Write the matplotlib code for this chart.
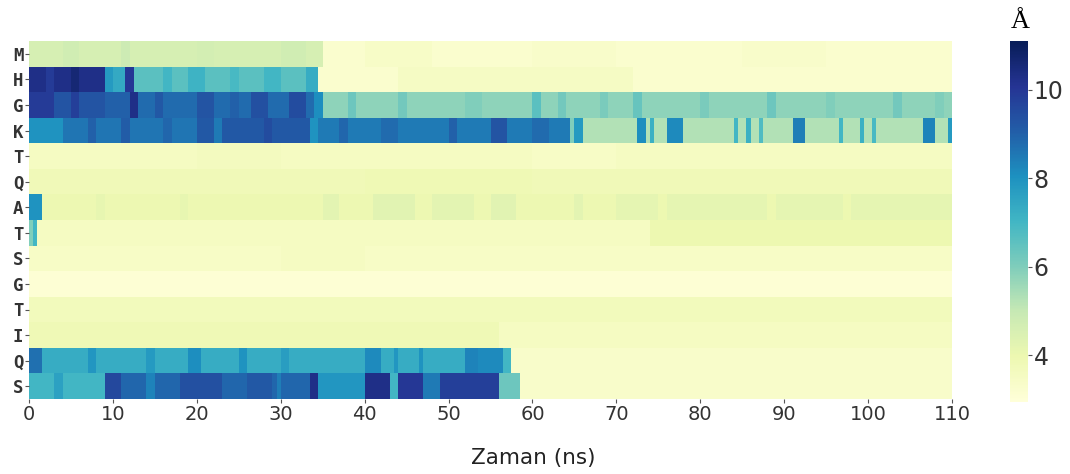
import numpy as np
import matplotlib.pyplot as plt
from matplotlib.colors import Normalize

# residue labels (top to bottom)
row_labels = ["M", "H", "G", "K", "T", "Q", "A", "T", "S", "G", "T", "I", "Q", "S"]

# per-row segments: (start ns, end ns, distance in Å)
# later segments overwrite earlier ones
seg_M = [(0, 35, 4.6), (4, 6, 4.75), (11, 12, 4.85), (20, 22, 4.7), (30, 33, 4.75),
         (35, 110, 3.25), (40, 48, 3.4), (60, 70, 3.35), (85, 95, 3.35)]
seg_H = [(0, 9, 10.3), (2, 3, 9.9), (5, 6, 10.6), (9, 10, 7.8), (10, 11.5, 7.4),
         (11.5, 12.5, 10.0), (12.5, 34.5, 6.6), (16, 17, 7.0), (19, 21, 7.1),
         (24, 25, 6.9), (28, 30, 7.0), (33, 34.5, 7.3), (34.5, 110, 3.25), (44, 72, 3.5)]
seg_G1 = [(0, 3, 9.9), (3, 9, 9.3), (5, 6, 9.8), (9, 12, 9.0), (12, 13, 10.3),
          (13, 34, 8.8), (15, 16, 9.2), (20, 22, 9.3), (24, 25, 9.0), (26.5, 28.5, 9.4),
          (31, 33, 9.5), (34, 35, 8.1), (35, 110, 5.8), (38, 39, 6.3), (44, 45, 6.2),
          (52, 54, 6.0), (60, 61, 6.6), (63, 64, 6.2), (68, 69, 6.1), (72, 73, 6.4),
          (80, 81, 6.1), (88, 89, 6.3), (95, 96, 6.0), (103, 104, 6.2), (108, 109, 6.0)]
seg_K = [(0, 4, 8.0), (4, 20, 8.6), (7, 8, 9.0), (11, 12, 9.1), (16, 17, 8.9),
         (20, 33.5, 9.2), (22, 23, 8.5), (28, 29, 9.5), (33.5, 34.5, 8.0),
         (34.5, 64.5, 8.5), (37, 38, 8.9), (42, 44, 8.8), (50, 51, 9.0), (55, 57, 9.3),
         (60, 62, 8.8), (64.5, 65, 6.0), (65, 66, 7.8), (66, 110, 5.3),
         (72.5, 73.5, 8.1), (74, 74.5, 7.2), (76, 78, 8.2), (84, 84.5, 7.0),
         (85.5, 86, 7.2), (87, 87.5, 6.8), (91, 92.5, 8.4), (96.5, 97, 7.0),
         (99, 99.5, 7.2), (100.5, 101, 6.9), (106.5, 108, 8.3), (109.5, 110, 7.8)]
seg_T1 = [(0, 110, 3.55), (20, 30, 3.65), (60, 70, 3.45)]
seg_Q1 = [(0, 110, 3.8), (40, 60, 3.9)]
seg_A = [(0, 1.5, 8.0), (1.5, 110, 3.95), (8, 9, 4.15), (18, 19, 4.15), (35, 37, 4.25),
         (41, 46, 4.3), (48, 53, 4.25), (55, 58, 4.3), (65, 66, 4.25), (70, 110, 4.2),
         (75, 76, 4.0), (88, 89, 4.0), (97, 98, 4.0)]
seg_T2 = [(0, 0.5, 6.0), (0.5, 1.2, 7.0), (1.2, 74, 3.55), (74, 110, 4.0)]
seg_S1 = [(0, 110, 3.45), (30, 40, 3.55)]
seg_G2 = [(0, 110, 3.1)]
seg_T3 = [(0, 110, 3.7)]
seg_I = [(0, 56, 3.85), (56, 110, 3.55)]
seg_Q2 = [(0, 1.5, 8.7), (1.5, 57, 7.3), (7, 8, 7.9), (14, 15, 7.8), (18.8, 20.4, 8.1),
          (25, 26, 8.0), (30, 31, 7.7), (39.8, 41.8, 8.2), (43.5, 44, 7.9),
          (46.5, 47, 8.0), (52, 53.7, 8.3), (53.7, 56.5, 8.2), (56.5, 57.3, 7.0),
          (57.3, 110, 3.35)]
seg_S2 = [(0, 9, 7.0), (3, 4, 7.6), (9, 11.2, 9.6), (11.2, 33.5, 8.9), (14, 15, 8.3),
          (18.2, 23.1, 9.4), (26, 29, 9.2), (29.5, 30, 8.4), (33.5, 34.7, 10.3),
          (34.7, 39.8, 7.9), (39.8, 42.8, 10.3), (42.8, 43.8, 7.0), (43.8, 47, 10.0),
          (47, 49.2, 8.5), (49.2, 55.8, 9.8), (55.8, 58.3, 6.3), (58.3, 110, 3.35)]

row_segments = [seg_M, seg_H, seg_G1, seg_K, seg_T1, seg_Q1, seg_A, seg_T2,
                seg_S1, seg_G2, seg_T3, seg_I, seg_Q2, seg_S2]

x_ticks = [0, 10, 20, 30, 40, 50, 60, 70, 80, 90, 100, 110]
cbar_ticks = [4, 6, 8, 10]

# build the matrix on a 0.5 ns grid
dt = 0.5
edges = np.arange(0, 110 + dt, dt)
centers = edges[:-1] + dt / 2
data = np.zeros((len(row_labels), len(centers)))
for i, segs in enumerate(row_segments):
    for start, end, val in segs:
        data[i, (centers >= start) & (centers < end)] = val

fig = plt.figure(figsize=(10.7, 4.74), dpi=100)
ax = fig.add_axes([29 / 1070, 1 - 399 / 474, (952 - 29) / 1070, (399 - 41) / 474])
cax = fig.add_axes([1010 / 1070, 1 - 402 / 474, 18 / 1070, (402 - 41) / 474])

norm = Normalize(vmin=2.95, vmax=11.1)
mesh = ax.pcolormesh(edges, np.arange(len(row_labels) + 1), data,
                     cmap="YlGnBu", norm=norm, rasterized=True)
ax.set_xlim(0, 110)
ax.set_ylim(len(row_labels), 0)
for s in ax.spines.values():
    s.set_visible(False)

ax.set_yticks(np.arange(len(row_labels)) + 0.5)
ax.set_yticklabels(row_labels, family="DejaVu Sans Mono", fontsize=12.5,
                   fontweight="bold", color="#333333")
ax.set_xticks(x_ticks)
ax.set_xticklabels([str(t) for t in x_ticks], fontsize=14, color="#333333")
ax.tick_params(axis="both", length=3, width=0.8, color="#555555", pad=1)
fig.text(533 / 1070, 1 - 458 / 474, "Zaman (ns)", ha="center", va="center",
         fontsize=15.5, color="#222222")

cb = fig.colorbar(mesh, cax=cax, ticks=cbar_ticks)
cb.outline.set_visible(False)
cb.ax.tick_params(labelsize=17, length=3, color="#555555", labelcolor="#333333", pad=1)
fig.text(1020 / 1070, 1 - 22 / 474, "Å", ha="center", va="center",
         family="Liberation Serif", fontsize=19, color="black")

fig.savefig("out.png", dpi=100)
